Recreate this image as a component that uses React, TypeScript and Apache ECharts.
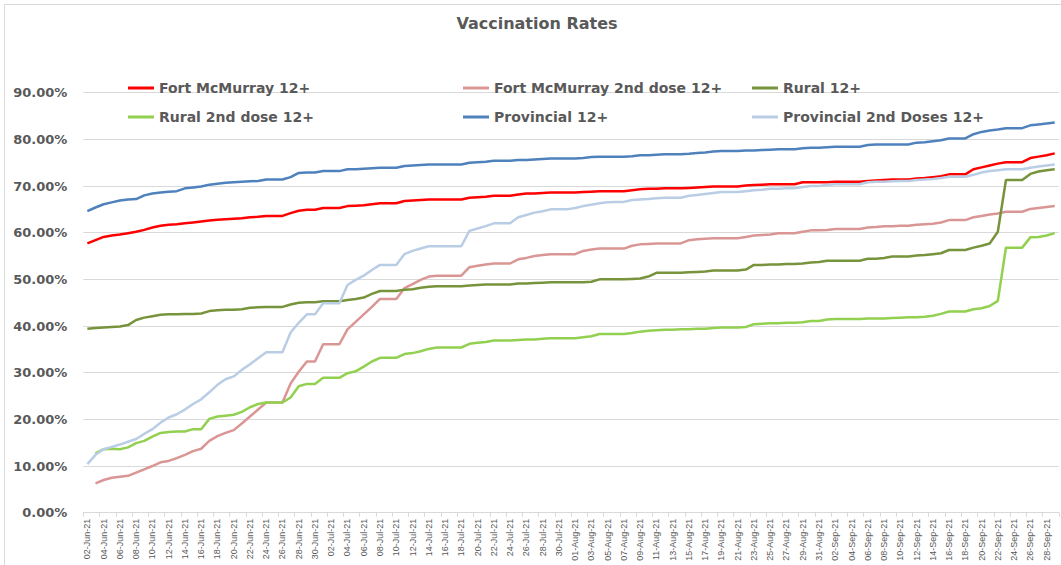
import React, { useEffect, useRef } from "react";
import * as echarts from "echarts";

const MONTHS = ["Jan","Feb","Mar","Apr","May","Jun","Jul","Aug","Sep","Oct","Nov","Dec"];
const DAY_COUNT = 120;
const dates: string[] = [];
for (let i = 0; i < DAY_COUNT; i++) {
  const d = new Date(Date.UTC(2021, 5, 2 + i));
  const dd = String(d.getUTCDate()).padStart(2, "0");
  dates.push(`${dd}-${MONTHS[d.getUTCMonth()]}-21`);
}

const yTicks = [0, 10, 20, 30, 40, 50, 60, 70, 80, 90];

const fortMcMurray12 = [
  57.7, 58.4, 59.1, 59.4, 59.6, 59.9, 60.2, 60.6, 61.1, 61.5,
  61.7, 61.8, 62.0, 62.2, 62.4, 62.6, 62.8, 62.9, 63.0, 63.1,
  63.3, 63.4, 63.6, 63.6, 63.6, 64.2, 64.7, 64.9, 64.9, 65.3,
  65.3, 65.3, 65.7, 65.8, 65.9, 66.1, 66.3, 66.3, 66.3, 66.8,
  66.9, 67.0, 67.1, 67.1, 67.1, 67.1, 67.1, 67.5, 67.6, 67.7,
  67.9, 67.9, 67.9, 68.2, 68.4, 68.4, 68.5, 68.6, 68.6, 68.6,
  68.6, 68.7, 68.8, 68.9, 68.9, 68.9, 68.9, 69.1, 69.3, 69.4,
  69.4, 69.5, 69.5, 69.5, 69.6, 69.7, 69.8, 69.9, 69.9, 69.9,
  69.9, 70.1, 70.2, 70.3, 70.4, 70.4, 70.4, 70.4, 70.8, 70.8,
  70.8, 70.8, 70.9, 70.9, 70.9, 70.9, 71.1, 71.2, 71.3, 71.4,
  71.4, 71.4, 71.6, 71.7, 71.9, 72.1, 72.5, 72.5, 72.5, 73.6,
  74.0, 74.4, 74.8, 75.1, 75.1, 75.1, 76.0, 76.3, 76.6, 77.0,
];

const fortMcMurray2nd = [
  null, 6.3, 7.0, 7.5, 7.7, 7.9, 8.6, 9.3, 10.0, 10.8,
  11.1, 11.7, 12.4, 13.2, 13.7, 15.4, 16.4, 17.1, 17.7, 19.1,
  20.6, 22.1, 23.6, 23.6, 23.6, 27.7, 30.2, 32.4, 32.4, 36.1,
  36.1, 36.1, 39.3, 40.9, 42.5, 44.1, 45.8, 45.8, 45.8, 48.1,
  49.0, 49.9, 50.6, 50.8, 50.8, 50.8, 50.8, 52.6, 52.9, 53.2,
  53.4, 53.4, 53.4, 54.3, 54.6, 55.0, 55.2, 55.4, 55.4, 55.4,
  55.4, 56.1, 56.4, 56.6, 56.6, 56.6, 56.6, 57.2, 57.5, 57.6,
  57.7, 57.7, 57.7, 57.7, 58.4, 58.6, 58.7, 58.8, 58.8, 58.8,
  58.8, 59.1, 59.4, 59.5, 59.6, 59.9, 59.9, 59.9, 60.2, 60.5,
  60.5, 60.6, 60.8, 60.8, 60.8, 60.8, 61.1, 61.2, 61.4, 61.4,
  61.5, 61.5, 61.7, 61.8, 61.9, 62.2, 62.7, 62.7, 62.7, 63.3,
  63.6, 63.9, 64.1, 64.5, 64.5, 64.5, 65.1, 65.3, 65.5, 65.7,
];

const rural12 = [
  39.4, 39.6, 39.7, 39.8, 39.9, 40.2, 41.3, 41.8, 42.1, 42.4,
  42.5, 42.5, 42.6, 42.6, 42.7, 43.2, 43.4, 43.5, 43.5, 43.6,
  43.9, 44.0, 44.1, 44.1, 44.1, 44.6, 45.0, 45.1, 45.1, 45.3,
  45.3, 45.3, 45.6, 45.8, 46.1, 46.9, 47.5, 47.5, 47.5, 47.8,
  47.9, 48.2, 48.4, 48.5, 48.5, 48.5, 48.5, 48.7, 48.8, 48.9,
  48.9, 48.9, 48.9, 49.1, 49.1, 49.2, 49.3, 49.4, 49.4, 49.4,
  49.4, 49.4, 49.5, 50.0, 50.0, 50.0, 50.0, 50.1, 50.2, 50.6,
  51.4, 51.4, 51.4, 51.4, 51.5, 51.6, 51.7, 51.9, 51.9, 51.9,
  51.9, 52.1, 53.1, 53.1, 53.2, 53.2, 53.3, 53.3, 53.4, 53.6,
  53.7, 54.0, 54.0, 54.0, 54.0, 54.0, 54.4, 54.4, 54.6, 54.9,
  54.9, 54.9, 55.1, 55.2, 55.4, 55.6, 56.3, 56.3, 56.3, 56.8,
  57.2, 57.7, 60.2, 71.3, 71.3, 71.3, 72.6, 73.1, 73.4, 73.6,
];

const rural2nd = [
  null, 12.7, 13.6, 13.7, 13.6, 14.0, 14.9, 15.4, 16.3, 17.1,
  17.3, 17.4, 17.4, 17.9, 17.9, 20.1, 20.6, 20.8, 21.0, 21.6,
  22.6, 23.3, 23.6, 23.6, 23.6, 24.7, 27.1, 27.6, 27.6, 28.9,
  28.9, 28.9, 29.9, 30.3, 31.3, 32.4, 33.2, 33.2, 33.2, 34.0,
  34.2, 34.6, 35.1, 35.4, 35.4, 35.4, 35.4, 36.2, 36.4, 36.6,
  36.9, 36.9, 36.9, 37.0, 37.1, 37.1, 37.3, 37.4, 37.4, 37.4,
  37.4, 37.6, 37.8, 38.3, 38.3, 38.3, 38.3, 38.5, 38.8, 39.0,
  39.1, 39.2, 39.2, 39.3, 39.3, 39.4, 39.4, 39.6, 39.7, 39.7,
  39.7, 39.8, 40.4, 40.5, 40.6, 40.6, 40.7, 40.7, 40.8, 41.1,
  41.1, 41.4, 41.5, 41.5, 41.5, 41.5, 41.6, 41.6, 41.6, 41.7,
  41.8, 41.9, 41.9, 42.0, 42.2, 42.6, 43.1, 43.1, 43.1, 43.6,
  43.8, 44.3, 45.4, 56.8, 56.8, 56.8, 59.0, 59.1, 59.4, 59.9,
];

const provincial12 = [
  64.6, 65.4, 66.1, 66.5, 66.9, 67.1, 67.2, 68.0, 68.4, 68.6,
  68.8, 68.9, 69.5, 69.7, 69.9, 70.3, 70.5, 70.7, 70.8, 70.9,
  71.0, 71.1, 71.4, 71.4, 71.4, 71.9, 72.8, 72.9, 72.9, 73.2,
  73.2, 73.2, 73.6, 73.6, 73.7, 73.8, 73.9, 73.9, 73.9, 74.3,
  74.4, 74.5, 74.6, 74.6, 74.6, 74.6, 74.6, 75.0, 75.1, 75.2,
  75.4, 75.4, 75.4, 75.6, 75.6, 75.7, 75.8, 75.9, 75.9, 75.9,
  75.9, 76.0, 76.2, 76.3, 76.3, 76.3, 76.3, 76.4, 76.6, 76.6,
  76.7, 76.8, 76.8, 76.8, 76.9, 77.1, 77.2, 77.4, 77.5, 77.5,
  77.5, 77.6, 77.6, 77.7, 77.8, 77.9, 77.9, 77.9, 78.1, 78.2,
  78.2, 78.3, 78.4, 78.4, 78.4, 78.4, 78.8, 78.9, 78.9, 78.9,
  78.9, 78.9, 79.3, 79.4, 79.6, 79.8, 80.2, 80.2, 80.2, 81.1,
  81.6, 81.9, 82.1, 82.4, 82.4, 82.4, 83.0, 83.2, 83.4, 83.6,
];

const provincial2nd = [
  10.4, 12.4, 13.6, 14.1, 14.6, 15.2, 15.8, 16.9, 17.9, 19.3,
  20.4, 21.1, 22.1, 23.3, 24.3, 25.8, 27.4, 28.6, 29.2, 30.6,
  31.8, 33.1, 34.4, 34.4, 34.4, 38.6, 40.7, 42.5, 42.5, 44.9,
  44.9, 44.9, 48.8, 49.9, 50.8, 52.0, 53.1, 53.1, 53.1, 55.4,
  56.1, 56.6, 57.1, 57.1, 57.1, 57.1, 57.1, 60.4, 60.9, 61.4,
  62.0, 62.0, 62.0, 63.3, 63.8, 64.3, 64.6, 65.0, 65.0, 65.0,
  65.3, 65.7, 66.0, 66.3, 66.5, 66.6, 66.6, 67.0, 67.1, 67.2,
  67.4, 67.5, 67.5, 67.5, 67.9, 68.1, 68.3, 68.5, 68.7, 68.7,
  68.7, 68.9, 69.1, 69.2, 69.4, 69.4, 69.5, 69.5, 69.8, 70.0,
  70.0, 70.2, 70.4, 70.4, 70.4, 70.4, 70.8, 70.9, 70.9, 71.0,
  71.1, 71.1, 71.3, 71.4, 71.5, 71.7, 72.0, 72.0, 72.0, 72.4,
  72.9, 73.2, 73.4, 73.6, 73.6, 73.6, 73.9, 74.2, 74.4, 74.6,
];

const seriesNames = [
  "Fort McMurray 12+",
  "Fort McMurray 2nd dose 12+",
  "Rural 12+",
  "Rural 2nd dose 12+",
  "Provincial 12+",
  "Provincial 2nd Doses 12+",
];
const seriesData = [fortMcMurray12, fortMcMurray2nd, rural12, rural2nd, provincial12, provincial2nd];
const seriesColors = ["#FF0000", "#DA9694", "#77933C", "#92D050", "#4F81BD", "#B9CDE5"];

const TEXT = "#595959";
const GRID = "#D9D9D9";
const FONT = "DejaVu Sans";

export default function App() {
  const ref = useRef<HTMLDivElement>(null);
  useEffect(() => {
    document.body.style.margin = "0";
    if (!ref.current) return;
    const chart = echarts.init(ref.current, undefined, { renderer: "svg" });
    const legendBase = {
      orient: "vertical" as const,
      top: 75,
      itemGap: 13,
      icon: "rect",
      itemWidth: 26,
      itemHeight: 3,
      textStyle: { fontFamily: FONT, fontWeight: "bold" as const, fontSize: 14, color: TEXT, lineHeight: 16 },
    };
    chart.setOption({
      animation: false,
      backgroundColor: "#ffffff",
      graphic: [
        {
          type: "rect",
          shape: { x: 4.5, y: 4.5, width: 1200, height: 700 },
          style: { fill: "none", stroke: GRID, lineWidth: 1 },
          silent: true,
          z: -10,
        },
        {
          type: "text",
          x: 537,
          y: 23,
          style: {
            text: "Vaccination Rates",
            fill: TEXT,
            font: `bold 16px ${FONT}`,
            textAlign: "center",
            textVerticalAlign: "middle",
          },
        },
      ],
      legend: [
        { ...legendBase, left: 123, data: [seriesNames[0], seriesNames[3]] },
        { ...legendBase, left: 458, data: [seriesNames[1], seriesNames[4]] },
        { ...legendBase, left: 747, data: [seriesNames[2], seriesNames[5]] },
      ],
      grid: { left: 83.3, right: 2.2, top: 92.7, bottom: 52.3, containLabel: false },
      xAxis: {
        type: "category",
        data: dates,
        boundaryGap: true,
        axisLine: { show: true, lineStyle: { color: GRID, width: 1 } },
        axisTick: { show: true, interval: 1, length: 4, lineStyle: { color: GRID } },
        axisLabel: {
          interval: 1,
          rotate: 90,
          margin: 6,
          fontFamily: "Liberation Sans",
          fontSize: 9,
          color: TEXT,
        },
        splitLine: { show: false },
      },
      yAxis: {
        type: "value",
        min: yTicks[0],
        max: yTicks[yTicks.length - 1],
        interval: 10,
        axisLine: { show: false },
        axisTick: { show: false },
        axisLabel: {
          margin: 16,
          fontFamily: FONT,
          fontWeight: "bold",
          fontSize: 13,
          color: TEXT,
          formatter: (v: number) => v.toFixed(2) + "%",
        },
        splitLine: { show: true, lineStyle: { color: GRID, width: 1 } },
      },
      series: seriesNames.map((name, i) => ({
        name,
        type: "line",
        data: seriesData[i],
        symbol: "none",
        smooth: false,
        connectNulls: false,
        color: seriesColors[i],
        lineStyle: { width: 2.5, color: seriesColors[i] },
        z: 2,
      })),
    });
    return () => chart.dispose();
  }, []);
  return <div ref={ref} style={{ width: 1061, height: 565 }} />;
}
